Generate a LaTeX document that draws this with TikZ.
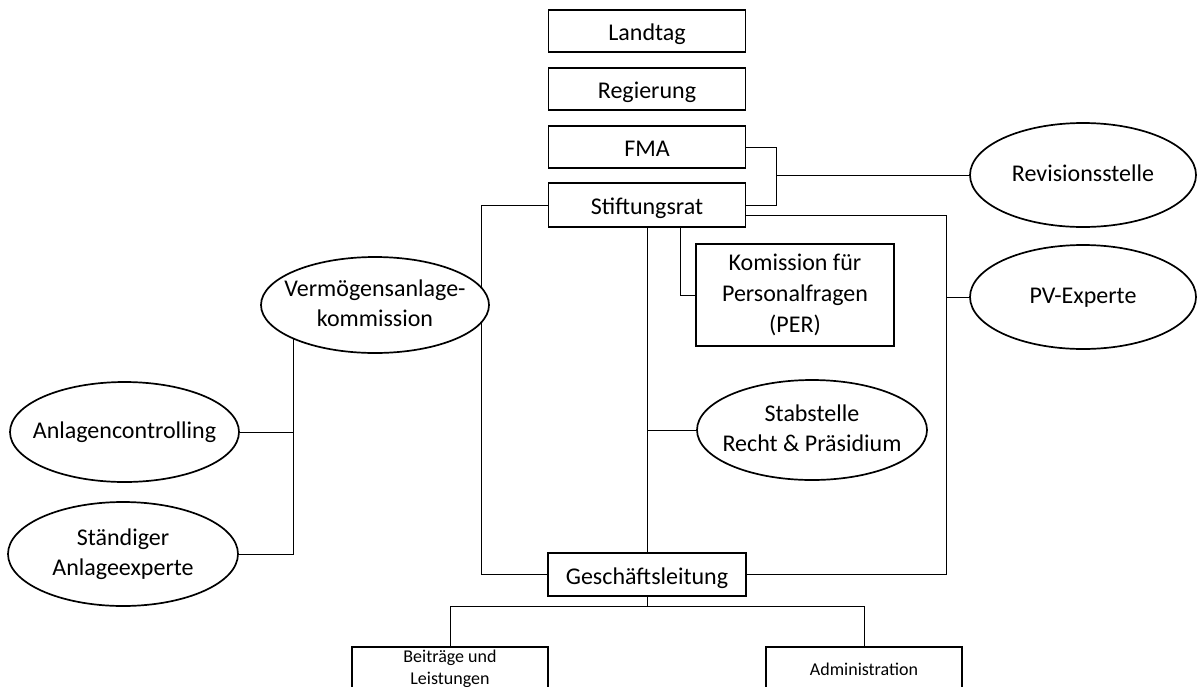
\documentclass[tikz,border=0pt]{standalone}
\usepackage{fontspec}
\setmainfont{Carlito}
\usetikzlibrary{shapes.geometric,backgrounds}
\newcommand\ztext[1]{\makebox[0pt]{\begin{tabular}{@{}c@{}}#1\end{tabular}}}
\begin{document}
\begin{tikzpicture}[x=1pt,y=-1pt, line width=1.7pt,
  box/.style={draw, fill=white, rectangle, minimum width=197pt, minimum height=42pt, inner sep=0pt, align=center, font=\fontsize{24}{31}\selectfont},
  onebox/.style={box, text height=20pt, text depth=1pt},
  oval/.style={draw, fill=white, ellipse, inner sep=0pt, font=\fontsize{24}{30}\selectfont},
  smallbox/.style={box, font=\fontsize{18}{22}\selectfont, minimum height=44pt}]
\useasboundingbox (0,0) rectangle (1198,686);
\clip (0,0) rectangle (1198,686);
\node[onebox] (land) at (647,31) {Landtag};
\node[onebox] (reg) at (647,89) {Regierung};
\node[onebox] (fma) at (647,147) {FMA};
\node[onebox, minimum height=44pt] (stift) at (647,205) {Stiftungsrat};
\node[box, minimum width=198pt, minimum height=102pt] (kom) at (795,295) {Komission für\\Personalfragen\\(PER)};
\node[oval, minimum width=226pt, minimum height=104pt] (rev) at (1083,175) {\ztext{Revisionsstelle}};
\node[oval, minimum width=226pt, minimum height=104pt] (pv) at (1083,297) {\ztext{PV-Experte}};
\node[oval, minimum width=228pt, minimum height=96pt] (verm) at (375,305) {\ztext{Vermögensanlage-\\kommission}};
\node[oval, minimum width=230pt, minimum height=100pt] (stab) at (812,430) {\ztext{Stabstelle\\Recht \& Präsidium}};
\node[oval, minimum width=229pt, minimum height=100pt] (acon) at (124.5,432) {\ztext{Anlagencontrolling}};
\node[oval, minimum width=230pt, minimum height=104pt] (staend) at (123,554) {\ztext{Ständiger\\Anlageexperte}};
\node[onebox, minimum width=198pt, minimum height=43pt] (gl) at (647,574.5) {Geschäftsleitung};
\node[smallbox, minimum width=196pt] (beit) at (450,669) {Beiträge und\\Leistungen};
\node[smallbox, minimum width=196pt] (admin) at (864,669) {Administration};
\begin{scope}[on background layer]
\coordinate (j1) at (776,175);
\draw (fma.east) -| (j1) |- (stift.east);
\draw (j1) -- (rev.west);
\coordinate (rc) at (946,0);
\draw ([yshift=-10pt]stift.east) -| (gl.east -| rc) -- (gl.east);
\draw (pv.west) -- (pv.west -| rc);
\coordinate (lc) at (481,0);
\draw (stift.west) -| (gl.west -| lc) -- (gl.west);
\draw (stift.south) -- (gl.north);
\draw (stab.west) -- (stab.west -| stift.south);
\coordinate (kc) at (680,0);
\draw (stift.south -| kc) |- (kom.west);
\coordinate (vc) at (293,0);
\draw (verm.center -| vc) |- (staend.east);
\draw (acon.east) -- (acon.east -| vc);
\coordinate (bc) at (647,606);
\draw (gl.south) -- (bc);
\draw (beit.north) |- (bc) -| (admin.north);
\end{scope}
\end{tikzpicture}
\end{document}
